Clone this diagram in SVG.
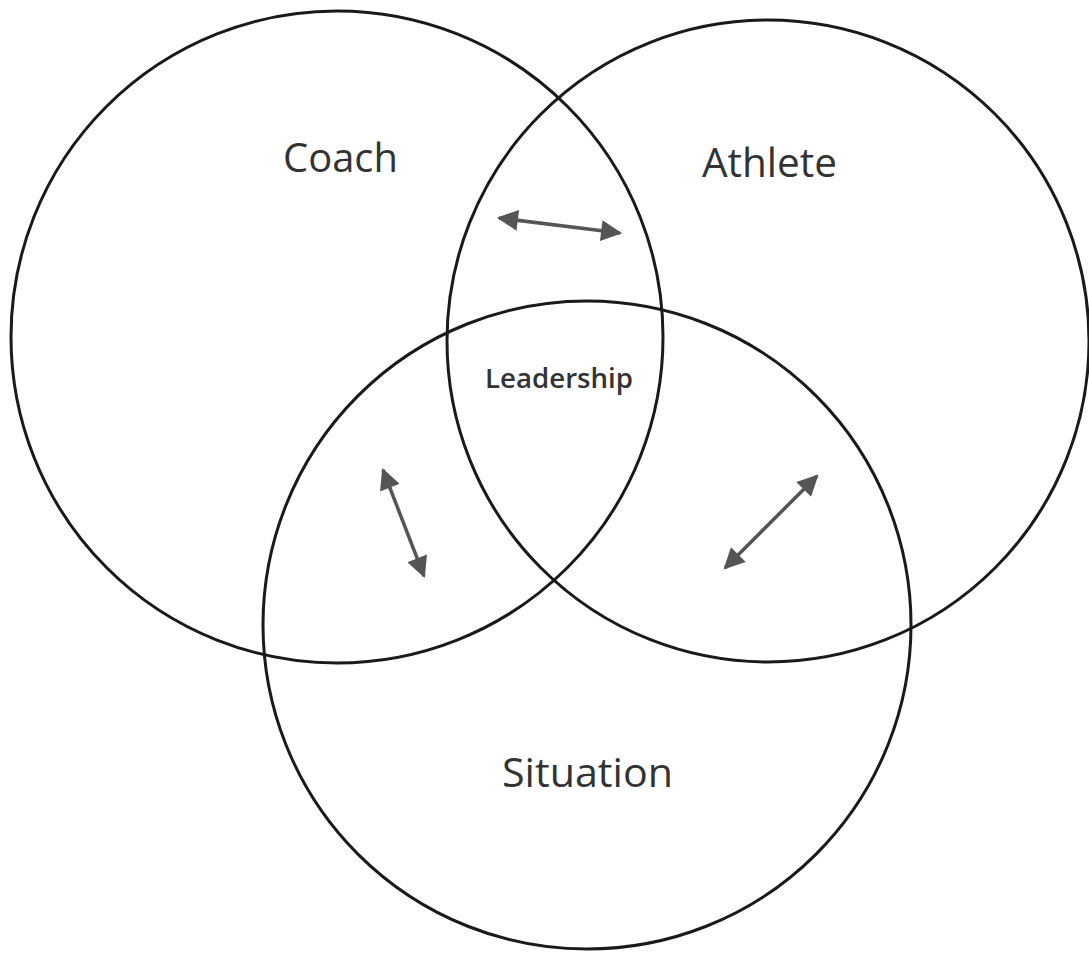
<svg xmlns="http://www.w3.org/2000/svg" width="1089" height="953" viewBox="0 0 1089 953">
<defs>
<style>
.c{fill:none;stroke:#1a1a1a;stroke-width:3}
.t{font-family:"Open Sans","Liberation Sans",sans-serif;fill:#333;font-size:40px}
.l{font-family:"Open Sans","Liberation Sans",sans-serif;fill:#333;font-size:27px;font-weight:600}
.a{stroke:#555;stroke-width:3.5;fill:none;marker-start:url(#h);marker-end:url(#h)}
</style>
<marker id="h" viewBox="0 0 10 10" refX="9" refY="5" markerWidth="7" markerHeight="6" markerUnits="strokeWidth" orient="auto-start-reverse">
<path d="M0,0 L10,5 L0,10 z" fill="#555"/>
</marker>
</defs>
<rect width="1089" height="953" fill="#fff"/>
<g id="coach"><circle class="c" cx="337" cy="337" r="326"/><text class="t" x="283" y="172" textLength="115" lengthAdjust="spacingAndGlyphs">Coach</text></g>
<g id="athlete"><circle class="c" cx="768" cy="341" r="321"/><text class="t" x="702" y="177" textLength="135" lengthAdjust="spacingAndGlyphs">Athlete</text></g>
<g id="situation"><circle class="c" cx="587" cy="625" r="324"/><text class="t" x="502" y="787" textLength="171" lengthAdjust="spacingAndGlyphs">Situation</text></g>
<g id="leadership"><text class="l" x="485" y="388" textLength="148" lengthAdjust="spacingAndGlyphs">Leadership</text></g>
<g id="connectors">
<line class="a" x1="499" y1="218" x2="620" y2="233"/>
<line class="a" x1="383" y1="470" x2="424" y2="576"/>
<line class="a" x1="817" y1="476" x2="725" y2="568"/>
</g>
</svg>
